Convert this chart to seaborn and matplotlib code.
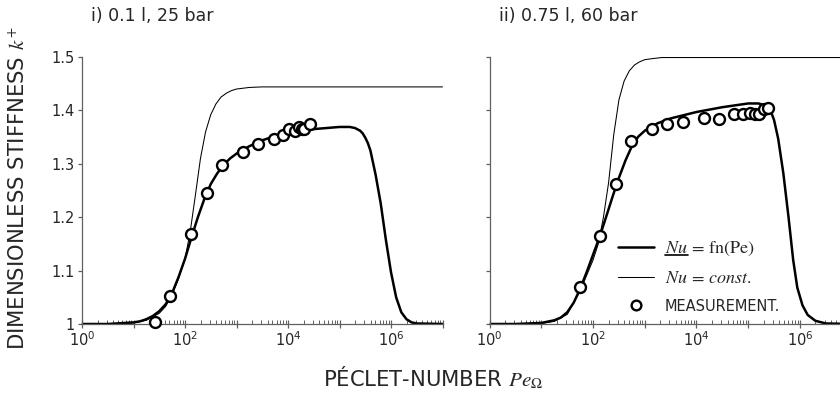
import numpy as np
import pandas as pd
import matplotlib
matplotlib.use('Agg')
import matplotlib.pyplot as plt
from matplotlib.lines import Line2D
import seaborn as sns

# ---- data (x given as log10 of the Peclet number) ----
# i) 0.1 l, 25 bar
logpe_fit_i = [0, 0.5, 1.0, 1.125, 1.25, 1.375, 1.5, 1.625, 1.75, 1.875, 2.0, 2.125, 2.25, 2.375,
               2.5, 2.625, 2.75, 2.875, 3.0, 3.25, 3.5, 3.75, 4.0, 4.5, 5.0, 5.2, 5.3, 5.4, 5.45,
               5.5, 5.55, 5.6, 5.7, 5.8, 5.9, 6.0, 6.1, 6.2, 6.3, 6.4, 6.5, 7.0]
k_fit_i = [1.0, 1.0, 1.003, 1.005, 1.009, 1.015, 1.024, 1.037, 1.058, 1.088, 1.122, 1.162, 1.2, 1.234,
           1.262, 1.282, 1.298, 1.31, 1.319, 1.333, 1.344, 1.352, 1.358, 1.365, 1.369, 1.369, 1.367,
           1.362, 1.357, 1.349, 1.339, 1.325, 1.28, 1.226, 1.158, 1.097, 1.05, 1.022, 1.009, 1.003,
           1.001, 1.0]
logpe_const_i = [0, 0.5, 1.0, 1.25, 1.5, 1.625, 1.75, 1.875, 2.0, 2.1, 2.2, 2.3, 2.4, 2.5, 2.6, 2.7,
                 2.8, 2.9, 3.0, 3.25, 3.5, 7.0]
k_const_i = [1.0, 1.0, 1.002, 1.007, 1.02, 1.033, 1.055, 1.085, 1.122, 1.172, 1.24, 1.31, 1.36, 1.392,
             1.412, 1.425, 1.432, 1.437, 1.44, 1.443, 1.444, 1.444]
logpe_meas_i = [1.417, 1.715, 2.117, 2.42, 2.724, 3.126, 3.42, 3.73, 3.91, 4.025, 4.136, 4.21, 4.27, 4.32, 4.43]
k_meas_i = [1.004, 1.052, 1.169, 1.246, 1.298, 1.323, 1.337, 1.346, 1.354, 1.365, 1.361, 1.369, 1.366, 1.365, 1.374]

# ii) 0.75 l, 60 bar
logpe_fit_ii = [0, 0.5, 1.0, 1.25, 1.375, 1.5, 1.625, 1.75, 1.875, 2.0, 2.125, 2.25, 2.375, 2.5, 2.625,
                2.75, 2.875, 3.0, 3.25, 3.5, 4.0, 4.5, 5.0, 5.2, 5.3, 5.4, 5.45, 5.5, 5.58, 5.68, 5.78,
                5.87, 5.95, 6.05, 6.15, 6.3, 6.5, 7.0]
k_fit_ii = [1.0, 1.0, 1.002, 1.007, 1.012, 1.022, 1.04, 1.066, 1.097, 1.13, 1.163, 1.2, 1.238, 1.274,
            1.306, 1.333, 1.351, 1.362, 1.376, 1.385, 1.397, 1.406, 1.413, 1.413, 1.41, 1.403, 1.395,
            1.382, 1.347, 1.282, 1.2, 1.12, 1.068, 1.035, 1.017, 1.006, 1.001, 1.0]
logpe_const_ii = [0, 0.5, 1.0, 1.25, 1.5, 1.75, 2.0, 2.1, 2.2, 2.3, 2.4, 2.5, 2.6, 2.7, 2.8, 2.9,
                  3.0, 3.15, 3.33, 7.0]
k_const_ii = [1.0, 1.0, 1.001, 1.005, 1.018, 1.062, 1.12, 1.15, 1.2, 1.265, 1.355, 1.42, 1.455, 1.474,
              1.485, 1.491, 1.495, 1.497, 1.499, 1.499]
logpe_meas_ii = [1.752, 2.139, 2.443, 2.739, 3.145, 3.435, 3.745, 4.139, 4.441, 4.731, 4.905, 5.035,
                 5.132, 5.215, 5.311, 5.389]
k_meas_ii = [1.069, 1.165, 1.263, 1.342, 1.366, 1.374, 1.378, 1.386, 1.384, 1.393, 1.393, 1.396,
             1.394, 1.394, 1.403, 1.405]

titles = ['i) 0.1 l, 25 bar', 'ii) 0.75 l, 60 bar']
ytick_vals = [1.0, 1.1, 1.2, 1.3, 1.4, 1.5]
ytick_labels = ['1', '1.1', '1.2', '1.3', '1.4', '1.5']
xtick_exp = [0, 1, 2, 3, 4, 5, 6, 7]
xtick_labels = ['$\\mathdefault{10^{0}}$', '', '$\\mathdefault{10^{2}}$', '',
                '$\\mathdefault{10^{4}}$', '', '$\\mathdefault{10^{6}}$', '']

sns.set_style('ticks')
plt.rcParams['font.family'] = ['DejaVu Sans']
plt.rcParams['mathtext.fontset'] = 'stix'
plt.rcParams['xtick.minor.visible'] = True

fig = plt.figure(figsize=(8.4, 3.96), dpi=100)
ax1 = fig.add_axes([82 / 840, 72 / 396, 360.5 / 840, 267 / 396])
ax2 = fig.add_axes([489.7 / 840, 72 / 396, 361.9 / 840, 267 / 396])

panels = [
    (ax1, logpe_fit_i, k_fit_i, logpe_const_i, k_const_i, logpe_meas_i, k_meas_i),
    (ax2, logpe_fit_ii, k_fit_ii, logpe_const_ii, k_const_ii, logpe_meas_ii, k_meas_ii),
]

minor_pos = [m * 10.0 ** e for e in xtick_exp[:-1] for m in range(2, 10)]

spine_col = '#606060'
for i, (ax, lf, kf, lc, kc, lm, km) in enumerate(panels):
    fit = pd.DataFrame({'pe': 10 ** np.array(lf), 'k': kf})
    const = pd.DataFrame({'pe': 10 ** np.array(lc), 'k': kc})
    meas = pd.DataFrame({'pe': 10 ** np.array(lm), 'k': km})
    sns.lineplot(data=const, x='pe', y='k', ax=ax, color='black', lw=0.75,
                 estimator=None, sort=False, clip_on=False, zorder=2)
    sns.lineplot(data=fit, x='pe', y='k', ax=ax, color='black', lw=1.8,
                 estimator=None, sort=False, zorder=2)
    sns.scatterplot(data=meas, x='pe', y='k', ax=ax, marker='o', s=62,
                    facecolor='white', edgecolor='black', linewidth=1.7, zorder=4, clip_on=False)
    ax.set_xscale('log')
    ax.set_xlim(1, 1e7)
    ax.set_ylim(1.0, 1.5)
    ax.set_xlabel('')
    ax.set_ylabel('')
    sns.despine(ax=ax)
    for s in ['left', 'bottom']:
        ax.spines[s].set_color(spine_col)
        ax.spines[s].set_linewidth(0.9)
    ax.set_xticks([10.0 ** e for e in xtick_exp])
    ax.set_xticklabels(xtick_labels)
    ax.set_xticks(minor_pos, minor=True)
    ax.set_xticklabels([''] * len(minor_pos), minor=True)
    ax.tick_params(axis='x', which='major', direction='inout', length=5.5, width=0.9,
                   color=spine_col, labelsize=10.5, pad=2)
    ax.tick_params(axis='x', which='minor', bottom=True, direction='in', length=2.8,
                   width=0.7, color=spine_col)
    ax.set_yticks(ytick_vals)
    if i == 0:
        ax.set_yticklabels(ytick_labels)
    else:
        ax.set_yticklabels([])
    ax.tick_params(axis='y', direction='out', length=3, width=0.9, color=spine_col,
                   labelsize=10.5, pad=2)
    ax.patch.set_alpha(0)

fig.text(91 / 840, 1 - 16 / 396, titles[0], fontsize=12.5, ha='left', va='center')
fig.text(499 / 840, 1 - 16 / 396, titles[1], fontsize=12.5, ha='left', va='center')
fig.text(433 / 840, 18 / 396, 'PÉCLET-NUMBER $Pe_{\\Omega}$', fontsize=15.2, ha='center', va='center')
fig.text(18 / 840, 208 / 396, 'DIMENSIONLESS STIFFNESS $k^{+}$', fontsize=15.2,
         rotation=90, ha='center', va='center')

handles = [
    Line2D([], [], color='black', lw=1.8),
    Line2D([], [], color='black', lw=0.75),
    Line2D([], [], ls='none', marker='o', ms=7, mfc='white', mec='black', mew=1.7),
]
labels = ['$Nu\\,=\\,\\mathrm{fn(Pe)}$', '$Nu\\,=\\,const.$', 'MEASUREMENT.']
leg = ax2.legend(handles, labels, loc='upper left', bbox_to_anchor=(618 / 840, 1 - 239 / 396),
                 bbox_transform=fig.transFigure, frameon=False, fontsize=13,
                 handlelength=2.0, handletextpad=0.6, labelspacing=0.62,
                 borderpad=0, borderaxespad=0)
leg.get_texts()[2].set_fontsize(10.5)

# underline the "Nu" of the first legend entry
fig.canvas.draw()
rend = fig.canvas.get_renderer()
t0 = leg.get_texts()[0]
bb = t0.get_window_extent(rend)
probe = fig.text(0, 0, '$Nu$', fontsize=13)
wnu = probe.get_window_extent(rend).width
probe.remove()
inv = fig.transFigure.inverted()
(x0, y0) = inv.transform((bb.x0, bb.y0 + 3.5))
(x1, _) = inv.transform((bb.x0 + wnu, bb.y0 + 3.5))
fig.add_artist(Line2D([x0, x1], [y0, y0], transform=fig.transFigure, color='black', lw=1.2))

fig.savefig('out.png', dpi=100)
